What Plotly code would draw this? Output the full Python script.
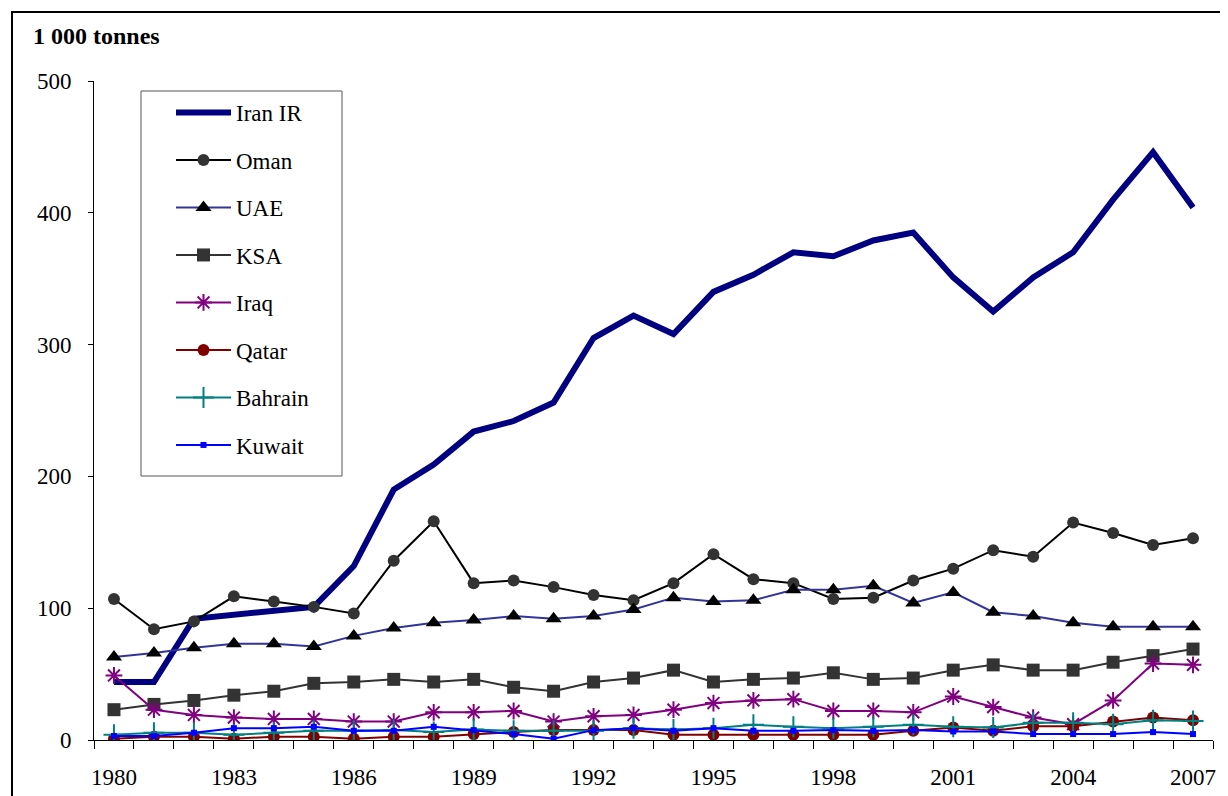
import plotly.graph_objects as go

years = list(range(1980, 2008))

iran = [44, 44, 92, 95, 98, 101, 132, 190, 209, 234, 242, 256, 305, 322, 308, 340,
        353, 370, 367, 379, 385, 351, 325, 351, 370, 410, 446, 404]
oman = [107, 84, 90, 109, 105, 101, 96, 136, 166, 119, 121, 116, 110, 106, 119, 141,
        122, 119, 107, 108, 121, 130, 144, 139, 165, 157, 148, 153]
uae = [63, 66, 70, 73, 73, 71, 79, 85, 89, 91, 94, 92, 94, 99, 108, 105,
       106, 114, 114, 117, 104, 112, 97, 94, 89, 86, 86, 86]
ksa = [23, 27, 30, 34, 37, 43, 44, 46, 44, 46, 40, 37, 44, 47, 53, 44,
       46, 47, 51, 46, 47, 53, 57, 53, 53, 59, 64, 69]
iraq = [49, 23, 19, 17, 16, 16, 14, 14, 21, 21, 22, 14, 18, 19, 23, 28,
        30, 31, 22, 22, 21, 33, 25, 17, 12, 30, 58, 57]
qatar = [1, 2.5, 2.5, 1, 2.5, 2.5, 1, 2.5, 2.5, 4.5, 6, 7.5, 7.5, 7.5, 4, 4,
         4, 4, 4, 4, 7, 9.5, 7, 10.5, 10.5, 14, 17, 15]
bahrain = [4, 5.5, 5.5, 4, 5.5, 7, 7, 7.5, 6, 8, 7, 7, 7, 9, 8, 9,
           11.5, 10, 9, 10, 11.5, 10, 9.5, 13, 13, 12, 15, 14.5]
kuwait = [3, 3, 5.5, 9, 9, 10, 7, 7, 10, 7.5, 4.5, 1, 7.5, 9, 7, 9,
          7, 7, 7.5, 7, 7.5, 6.5, 6.5, 4.5, 4.5, 4.5, 6, 4.5]

label_years = list(range(1980, 2008, 3))
y_ticks = [0, 100, 200, 300, 400, 500]

FONT = "Liberation Serif, Times New Roman, serif"

# the page body adds 8px of margin, so the figure is drawn 8px in from the corner
W, H = 1212, 788
ML, MR, MT, MB = 86, 7, 73, 56
PW, PH = W - ML - MR, H - MT - MB


def px_x(x):
    return (x - ML) / PW


def px_y(y):
    return 1 - (y - MT) / PH


series = [
    ("Iran IR", iran, dict(color="#000080", width=6), None),
    ("Oman", oman, dict(color="#000000", width=2),
     dict(symbol="circle", size=12, color="#333333")),
    ("UAE", uae, dict(color="#333399", width=2),
     dict(symbol="triangle-up", size=14, color="#000000")),
    ("KSA", ksa, dict(color="#333333", width=2),
     dict(symbol="square", size=13, color="#333333")),
    ("Iraq", iraq, dict(color="#800080", width=2),
     dict(symbol="asterisk-open", size=14, color="#800080",
          line=dict(color="#800080", width=2))),
    ("Qatar", qatar, dict(color="#800000", width=2),
     dict(symbol="circle", size=12, color="#800000")),
    ("Bahrain", bahrain, dict(color="#008080", width=2),
     dict(symbol="cross-thin-open", size=15, color="#008080",
          line=dict(color="#008080", width=2))),
    ("Kuwait", kuwait, dict(color="#0000FF", width=2),
     dict(symbol="square", size=6, color="#0000FF")),
]

fig = go.Figure()
for i, (name, vals, line, marker) in enumerate(series):
    fig.add_trace(go.Scatter(
        x=years, y=vals, name=name,
        mode="lines" if marker is None else "lines+markers",
        line=line, marker=marker, legendgroup=str(i)
    ))

fig.update_layout(
    width=W, height=H,
    margin=dict(l=ML, r=MR, t=MT, b=MB, autoexpand=False),
    paper_bgcolor="white", plot_bgcolor="white",
    font=dict(family=FONT, size=23, color="black"),
    showlegend=True,
    legend=dict(
        x=px_x(163), y=px_y(83), xanchor="left", yanchor="top",
        bgcolor="rgba(0,0,0,0)", borderwidth=0,
        itemwidth=55, tracegroupgap=14.6,
        font=dict(family=FONT, size=23, color="black"),
    ),
    title=dict(text="<b>1 000 tonnes</b>", x=25 / W, xanchor="left",
               y=1 - 28 / H, yanchor="middle",
               font=dict(family=FONT, size=24, color="black")),
)

fig.update_xaxes(
    range=[1979.5, 2007.5], tickvals=label_years, ticktext=[str(y) for y in label_years],
    ticks="outside", ticklen=0, tickcolor="white", ticklabelstandoff=16,
    automargin=False,
    showline=True, linecolor="black", linewidth=1, showgrid=False, zeroline=False,
    minor=dict(tickvals=[y - 0.5 for y in years] + [2007.5], ticks="outside",
               ticklen=8, tickcolor="black", tickwidth=1, showgrid=False),
)
fig.update_yaxes(
    range=[0, 500], tickvals=y_ticks, ticks="outside", ticklen=5, tickcolor="black",
    ticklabelstandoff=12, automargin=False,
    showline=True, linecolor="black", linewidth=1,
    showgrid=False, zeroline=False,
)

# outer frame and legend box
fig.add_shape(type="rect", xref="paper", yref="paper",
              x0=px_x(4), x1=px_x(W + 20), y0=px_y(H + 20), y1=px_y(4),
              line=dict(color="black", width=2), fillcolor="rgba(0,0,0,0)")
fig.add_shape(type="rect", xref="paper", yref="paper",
              x0=px_x(133), x1=px_x(334), y0=px_y(468), y1=px_y(83),
              line=dict(color="#555555", width=1), fillcolor="rgba(0,0,0,0)")

fig.write_html("out.html")
